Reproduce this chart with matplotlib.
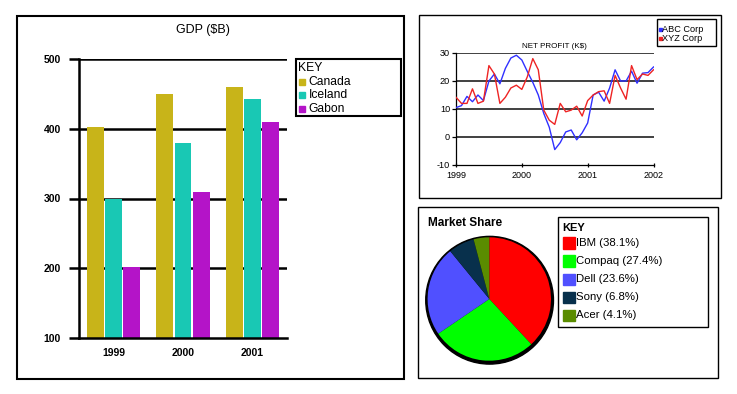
import matplotlib
matplotlib.use('Agg')
import matplotlib.pyplot as plt
from matplotlib.patches import Rectangle, Circle
import numpy as np

plt.rcParams['font.family'] = ['Liberation Sans', 'DejaVu Sans']
plt.rcParams['axes.unicode_minus'] = False

W, H = 737, 394

# --- GDP bar chart data
years = ['1999', '2000', '2001']
countries = ['Canada', 'Iceland', 'Gabon']
canada = [402, 450, 460]
iceland = [300, 380, 442]
gabon = [202, 310, 410]
bar_colors = ['#c8b419', '#19c8b4', '#b414c8']

# --- net profit data (monthly, Jan 1999 .. Jan 2002)
months = 1999 + np.arange(37) / 12.0
abc = [10.5, 11.2, 14.5, 12.6, 15, 13, 20, 22.5, 19, 24.5, 28.2, 29.2,
       27.5, 23.4, 19.5, 15, 8.4, 3.5, -4.5, -2, 1.8, 2.5, -1, 1.5,
       5, 15, 16, 12.8, 17.5, 24, 20, 20, 23.5, 19.2, 22.8, 23, 25]
xyz = [14.2, 12, 12, 17.2, 12, 12.8, 25.5, 22.5, 12, 14.2, 17.5, 18.5,
       17, 21.5, 28, 24, 9.6, 6, 4.5, 12, 9, 9.6, 11, 7.5,
       13, 15, 16.2, 16.5, 12, 22, 17.5, 13.5, 25.5, 20.5, 22.5, 22, 24]
line_names = ['ABC Corp', 'XYZ Corp']
line_colors = ['#3030ff', '#ee2424']

# --- market share data
companies = ['IBM', 'Compaq', 'Dell', 'Sony', 'Acer']
shares = [38.1, 27.4, 23.6, 6.8, 4.1]
pie_colors = ['#ff0000', '#00ff00', '#5050ff', '#08304c', '#5a8c00']


def fx(x):
    return x / W


def fy(y):
    return 1 - y / H


def frame(fig, x0, y0, x1, y1, lw=1.0):
    fig.add_artist(Rectangle((fx(x0), fy(y1)), fx(x1) - fx(x0), fy(y0) - fy(y1),
                             transform=fig.transFigure, fill=False,
                             edgecolor='black', linewidth=lw))


fig = plt.figure(figsize=(W / 100, H / 100), dpi=100)
fig.set_facecolor('w')

# ================= bar chart =================
frame(fig, 17, 16, 404, 379, lw=1.5)
ax1 = fig.add_axes([fx(79), fy(338), fx(287) - fx(79), fy(59) - fy(338)])
x = np.arange(len(years))
for i, (vals, c) in enumerate(zip([canada, iceland, gabon], bar_colors)):
    ax1.bar(x + (i - 1) * 0.26, np.array(vals) - 100, bottom=100, width=0.245,
            color=c, zorder=2)
ax1.set_xlim(-0.5, 2.5)
ax1.set_ylim(100, 500)
ax1.set_yticks([100, 200, 300, 400, 500])
ax1.set_xticks(x)
ax1.set_xticklabels(years)
for v in [200, 300, 400, 500]:
    ax1.axhline(v, color='black', linewidth=1.8, zorder=1)
for s in ['top', 'right']:
    ax1.spines[s].set_visible(False)
for s in ['left', 'bottom']:
    ax1.spines[s].set_linewidth(1.8)
ax1.tick_params(axis='y', length=7, width=1.8, pad=6, labelsize=7.5)
ax1.tick_params(axis='x', length=0, pad=7, labelsize=7.5)
for lab in ax1.get_xticklabels() + ax1.get_yticklabels():
    lab.set_fontweight('bold')
fig.text(fx(203), fy(30), 'GDP ($B)', ha='center', va='center', fontsize=9)

# legend
frame(fig, 296, 59, 401, 116, lw=1.5)
fig.text(fx(298), fy(68), 'KEY', ha='left', va='center', fontsize=8.7)
for k, (name, c) in enumerate(zip(countries, bar_colors)):
    yc = 82 + 13.3 * k
    fig.add_artist(Rectangle((fx(299), fy(yc + 3)), fx(6), 6 / H,
                             transform=fig.transFigure, color=c))
    fig.text(fx(308.5), fy(yc), name, ha='left', va='center', fontsize=8.7)

# ================= line chart =================
frame(fig, 419, 15, 721, 198)
ax2 = fig.add_axes([fx(456), fy(165), fx(653.5) - fx(456), fy(53) - fy(165)])
for vals, c in zip([abc, xyz], line_colors):
    ax2.plot(months, vals, color=c, linewidth=1.0, zorder=3)
ax2.set_xlim(1999, 2002)
ax2.set_ylim(-10, 30)
ax2.set_yticks([-10, 0, 10, 20, 30])
ax2.set_xticks([1999, 2000, 2001, 2002])
ax2.set_xticklabels(['1999', '2000', '2001', '2002'])
for v in [0, 10, 20, 30]:
    ax2.axhline(v, color='#404040', linewidth=1.4, zorder=1)
for s in ['top', 'right']:
    ax2.spines[s].set_visible(False)
for s in ['left', 'bottom']:
    ax2.spines[s].set_linewidth(0.9)
ax2.tick_params(axis='y', length=3, width=0.9, pad=1.2, labelsize=6.6)
ax2.tick_params(axis='x', length=3, width=0.9, pad=2.5, labelsize=6.5, direction='inout')
fig.text(fx(554), fy(46), 'NET PROFIT (K$)', ha='center', va='center', fontsize=5.8)

frame(fig, 657, 19, 716, 46)
for k, (name, c) in enumerate(zip(line_names, line_colors)):
    yc = 29.3 + 9.4 * k
    fig.add_artist(Rectangle((fx(659.3), fy(yc + 1.3)), fx(2.6), 2.6 / H,
                             transform=fig.transFigure, color=c))
    fig.text(fx(662.3), fy(yc), name, ha='left', va='center', fontsize=6.6)

# ================= pie chart =================
frame(fig, 418, 207, 718, 378)
fig.text(fx(428), fy(223), 'Market Share', ha='left', va='center',
         fontsize=8.5, fontweight='bold')
r = 61.7
ax3 = fig.add_axes([fx(489.3 - 1.2 * r), fy(299 + 1.2 * r), 2.4 * r / W, 2.4 * r / H])
ax3.add_patch(Circle((0.005, -0.02), 1.035, color='black', zorder=0))
ax3.pie(shares, colors=pie_colors, startangle=90, counterclock=False,
        wedgeprops=dict(linewidth=0))
ax3.set_xlim(-1.2, 1.2)
ax3.set_ylim(-1.2, 1.2)
ax3.set_aspect('equal')
ax3.axis('off')

frame(fig, 558, 217, 708, 327)
fig.text(fx(562.5), fy(227.5), 'KEY', ha='left', va='center', fontsize=8,
         fontweight='bold')
for k, (name, s, c) in enumerate(zip(companies, shares, pie_colors)):
    yc = 243 + 18.1 * k
    fig.add_artist(Rectangle((fx(563), fy(yc + 5.7)), fx(12), 11.4 / H,
                             transform=fig.transFigure, color=c))
    fig.text(fx(576.5), fy(yc), '%s (%.1f%%)' % (name, s), ha='left',
             va='center', fontsize=8.2)

fig.savefig('out.png', dpi=100)
